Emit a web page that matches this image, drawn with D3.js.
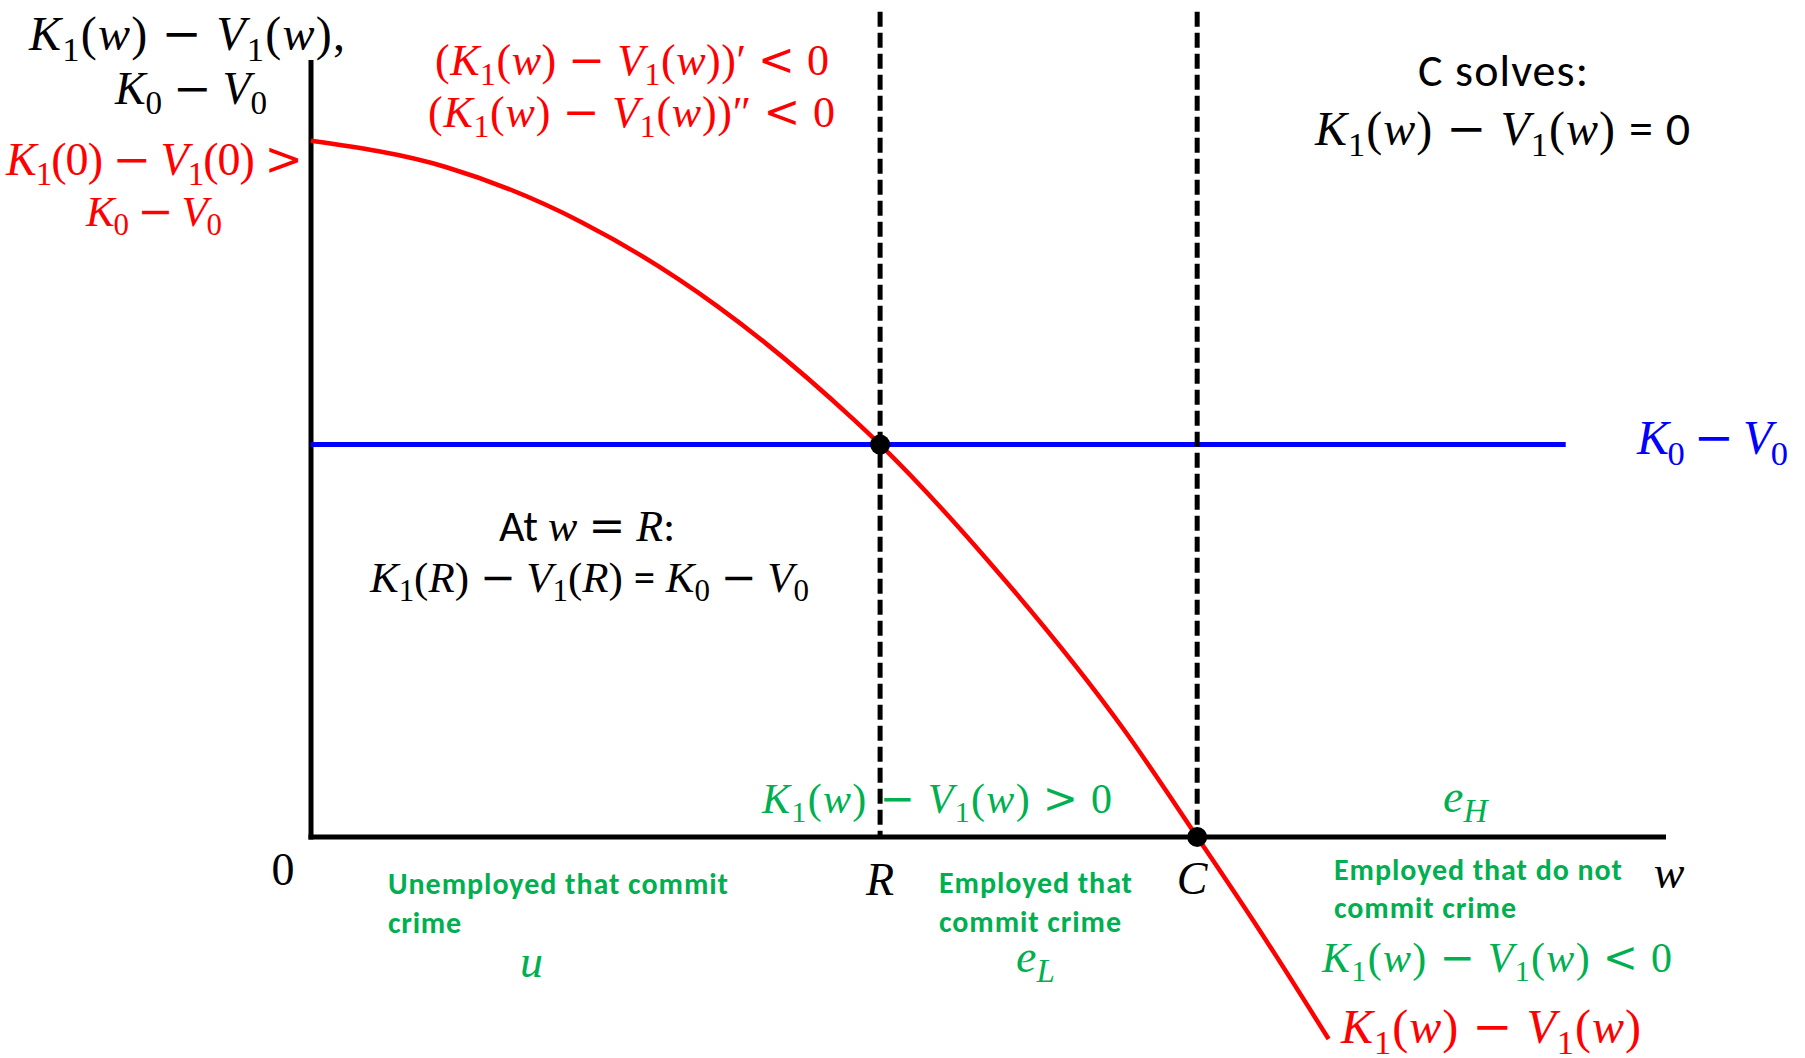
<!DOCTYPE html>
<html>
<head>
<meta charset="utf-8">
<script src="https://cdn.jsdelivr.net/npm/d3@7"></script>
<style>
  body { margin: 0; background: #fff; }
  text { white-space: pre; }
</style>
</head>
<body>
<svg id="chart" width="1805" height="1058"></svg>
<script>
// K1(w) - V1(w)
const curveW = [0, 1, 2, 3, 4, 4.2, 5, 6, 6.54, 7, 7.51];
const curveY = [8.96, 8.62, 7.91, 6.83, 5.38, 5.05, 3.55, 1.38, 0, -1.2, -2.6];

// K0 - V0 (flat) and where it stops
const k0v0 = 5.05;
const k0v0End = 9.26;

// thresholds R and C
const wR = 4.2;
const wC = 6.54;

// axis ticks
const tickW = [0, wR, wC, 10];
const tickLabels = ["0", "R", "C", "w"];

const RED = "#ff0000", BLUE = "#0000ff", GREEN = "#00b050", BLACK = "#000";
const SERIF = "'Liberation Serif', 'DejaVu Serif', serif";
const OPS = "'DejaVu Serif', serif";
const SANS = "Carlito, Lato, 'Open Sans', sans-serif";

let svg = d3.select("#chart");

let x = d3.scaleLinear().domain([0, 10]).range([311, 1666]);
let y = d3.scaleLinear().domain([0, 10]).range([837, 60]);

// axes
svg.append("line")
   .attr("x1", x(0)).attr("x2", x(0))
   .attr("y1", y(10)).attr("y2", y(0) + 2.5)
   .attr("stroke", BLACK).attr("stroke-width", 5);
svg.append("line")
   .attr("x1", x(0) - 2.5).attr("x2", x(10))
   .attr("y1", y(0)).attr("y2", y(0))
   .attr("stroke", BLACK).attr("stroke-width", 5);

// K0 - V0
svg.append("line")
   .attr("x1", x(0)).attr("x2", x(k0v0End))
   .attr("y1", y(k0v0)).attr("y2", y(k0v0))
   .attr("stroke", BLUE).attr("stroke-width", 5);

// dashed verticals at R and C
svg.selectAll(".vline")
   .data([wR, wC])
   .enter()
   .append("line")
   .attr("class", "vline")
   .attr("x1", d => x(d)).attr("x2", d => x(d))
   .attr("y1", y(10.62)).attr("y2", y(0))
   .attr("stroke", BLACK)
   .attr("stroke-width", 5)
   .attr("stroke-dasharray", "15,6");

// red curve
let line = d3.line()
             .x(d => x(d[0]))
             .y(d => y(d[1]))
             .curve(d3.curveMonotoneX);

svg.append("path")
   .attr("d", line(d3.zip(curveW, curveY)))
   .attr("fill", "none")
   .attr("stroke", RED)
   .attr("stroke-width", 4.5);

// crossing dots
svg.selectAll("circle")
   .data([[wR, k0v0], [wC, 0]])
   .enter()
   .append("circle")
   .attr("cx", d => x(d[0]))
   .attr("cy", d => y(d[1]))
   .attr("r", 10)
   .attr("fill", BLACK);

// text: letters italic serif, _x is a subscript, {..} is plain sans
function rich(spec) {
  let t = svg.append("text")
             .attr("x", spec.x)
             .attr("y", spec.y)
             .attr("fill", spec.c || BLACK)
             .attr("font-size", spec.s)
             .attr("text-anchor", spec.anchor || "start");
  if (spec.bold) t.attr("font-weight", "bold");

  let runs = [];
  let sans = false, sub = false;
  for (let ch of spec.t) {
    if (ch === "{") { sans = true; continue; }
    if (ch === "}") { sans = false; continue; }
    if (ch === "_") { sub = true; continue; }
    let italic = !sans && /[A-Za-z]/.test(ch);
    let op = !sans && "−=<>".includes(ch);
    let key = (sans ? "s" : "m") + (italic ? "i" : "") + (op ? "o" : "") + (sub ? "b" : "");
    let last = runs[runs.length - 1];
    if (last && last.key === key) last.txt += ch;
    else runs.push({key: key, txt: ch, sans: sans, italic: italic, op: op, sub: sub});
    sub = false;
  }

  let shift = 0;
  for (let r of runs) {
    let ts = t.append("tspan")
              .text(r.txt)
              .attr("font-family", r.sans ? SANS : (r.op ? OPS : SERIF))
              .attr("font-style", r.italic ? "italic" : "normal");
    let want = r.sub ? spec.s * 0.22 : 0;
    if (want !== shift) { ts.attr("dy", want - shift); shift = want; }
    if (r.sub) ts.attr("font-size", spec.s * 0.72);
  }
  if (spec.w) t.attr("textLength", spec.w).attr("lengthAdjust", "spacing");
}

// tick labels
const tickDx = [-28, 0, -5, 3];
const tickDy = [48, 58, 57, 51];
tickW.forEach((w, i) => {
  rich({t: tickLabels[i], x: x(w) + tickDx[i], y: y(0) + tickDy[i], s: 46, anchor: "middle"});
});

const labels = [
  {t: "K_1(w) − V_1(w),", x: 29, y: 50, w: 316, s: 48},
  {t: "K_0 − V_0", x: 115, y: 104, w: 152, s: 46},
  {t: "(K_1(w) − V_1(w))′ < 0", x: 435, y: 75, w: 394, s: 44, c: RED},
  {t: "(K_1(w) − V_1(w))″ < 0", x: 428, y: 127, w: 407, s: 44, c: RED},
  {t: "K_1(0) − V_1(0) >", x: 6, y: 175, w: 297, s: 46, c: RED},
  {t: "K_0 − V_0", x: 86, y: 226, w: 136, s: 43, c: RED},
  {t: "{C solves:}", x: 1418, y: 86, w: 170, s: 46},
  {t: "K_1(w) − V_1(w) {= 0}", x: 1315, y: 145, w: 375, s: 48},
  {t: "K_0 − V_0", x: 1637, y: 454, w: 151, s: 48, c: BLUE},
  {t: "{At }w = R{:}", x: 499, y: 541, w: 176, s: 44},
  {t: "K_1(R) − V_1(R) {=} K_0 − V_0", x: 370, y: 592, w: 439, s: 43},
  {t: "K_1(w) − V_1(w) > 0", x: 762, y: 813, w: 350, s: 42, c: GREEN},
  {t: "e_H", x: 1443, y: 812, s: 46, c: GREEN},
  {t: "{Unemployed that commit}", x: 388, y: 894, w: 340, s: 30, c: GREEN, bold: true},
  {t: "{crime}", x: 388, y: 933, w: 73, s: 30, c: GREEN, bold: true},
  {t: "u", x: 520, y: 977, s: 46, c: GREEN},
  {t: "{Employed that}", x: 939, y: 893, w: 193, s: 30, c: GREEN, bold: true},
  {t: "{commit crime}", x: 939, y: 932, w: 182, s: 30, c: GREEN, bold: true},
  {t: "e_L", x: 1016, y: 972, s: 46, c: GREEN},
  {t: "{Employed that do not}", x: 1334, y: 880, w: 288, s: 30, c: GREEN, bold: true},
  {t: "{commit crime}", x: 1334, y: 918, w: 182, s: 30, c: GREEN, bold: true},
  {t: "K_1(w) − V_1(w) < 0", x: 1322, y: 972, w: 350, s: 42, c: GREEN},
  {t: "K_1(w) − V_1(w)", x: 1341, y: 1043, w: 300, s: 48, c: RED}
];

labels.forEach(rich);
</script>
</body>
</html>
